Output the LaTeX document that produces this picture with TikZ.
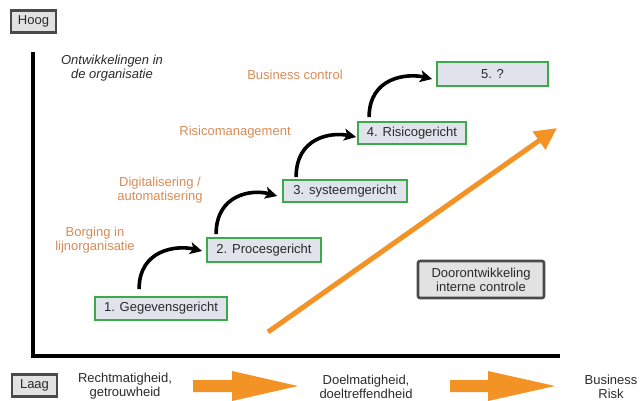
\documentclass[tikz,border=0pt]{standalone}
\usepackage{fontspec}
\setmainfont{Liberation Sans}
\usetikzlibrary{arrows.meta,calc}
\definecolor{boxgreen}{HTML}{3DAA4A}
\definecolor{boxfill}{HTML}{E0E3EB}
\definecolor{orangeA}{HTML}{F39325}
\definecolor{orangeT}{HTML}{D98A55}
\definecolor{darktxt}{HTML}{2A2A2A}
\definecolor{graybd}{HTML}{4A4A4A}
\definecolor{grayfill}{HTML}{E2E2E2}
\tikzset{
  stagebox/.style={draw=boxgreen, line width=1.8pt, fill=boxfill, text=darktxt, inner sep=0pt, anchor=center},
  levelbox/.style={draw=graybd, line width=2.6pt, fill=grayfill, text=darktxt, inner sep=0pt, minimum width=45pt, minimum height=22pt},
  orangelabel/.style={text=orangeT, align=center, inner sep=0pt},
  plainlabel/.style={text=darktxt, align=center, inner sep=0pt},
  steparrow/.style={line width=3.6pt, -{Stealth[length=12pt,width=12pt,inset=3pt]}},
  axisline/.style={line width=4pt, black},
}
\begin{document}
\begin{tikzpicture}[x=1pt,y=-1pt, font=\fontsize{13}{14}\selectfont]
\useasboundingbox (0,0) rectangle (644,400);
% axes
\coordinate (axtop) at (33,52);
\coordinate (axorig) at (33,355.5);
\coordinate (axright) at (560,355.5);
\draw[axisline] (axtop) -- (axorig) -- (axright);
% level boxes
\node[levelbox] (hoog) at (33.5,21.5) {Hoog};
\node[levelbox] (laag) at (34.5,385.5) {Laag};
% title
\node[plainlabel, font=\fontsize{13}{14}\selectfont\itshape] (titel) at (112,68) {Ontwikkelingen in\\de organisatie};
% orange labels
\node[orangelabel] (bc) at (295,75) {Business control};
\node[orangelabel] (rm) at (235,132) {Risicomanagement};
\node[orangelabel] (dig) at (160,190) {Digitalisering /\\automatisering};
\node[orangelabel] (borg) at (95,240) {Borging in\\lijnorganisatie};
% stage boxes
\node[stagebox, minimum width=132pt, minimum height=23pt] (b1) at (161,308.5) {1. Gegevensgericht};
\node[stagebox, minimum width=114pt, minimum height=24pt] (b2) at (264,250) {2. Procesgericht};
\node[stagebox, minimum width=124pt, minimum height=22pt] (b3) at (345,191) {3. systeemgericht};
\node[stagebox, minimum width=108pt, minimum height=22pt] (b4) at (412,133) {4. Risicogericht};
\node[stagebox, minimum width=111pt, minimum height=24pt] (b5) at (492.5,74) {5. ?};
% step arrows
\draw[steparrow] ([xshift=45pt,yshift=7pt]b1.north west) .. controls +(0,-40) and +(-25,-6) .. ([xshift=-4pt,yshift=-1pt]b2.west);
\draw[steparrow] ([xshift=10pt,yshift=3pt]b2.north west) .. controls +(0,-40) and +(-25,-7) .. ([xshift=-5pt,yshift=-5pt]b3.west);
\draw[steparrow] ([xshift=14pt,yshift=2pt]b3.north west) .. controls +(0,-40) and +(-25,-5) .. ([xshift=-1pt,yshift=-4pt]b4.west);
\draw[steparrow] ([xshift=12pt,yshift=4pt]b4.north west) .. controls +(0,-40) and +(-25,-6) .. ([xshift=-4pt,yshift=-5pt]b5.west);
% big orange arrow
\coordinate (oa) at (268,332);
\coordinate (ob) at (557,128);
\draw[orangeA, line width=5pt, -{Triangle[length=22pt,width=21pt]}] (oa) -- (ob);
% doorontwikkeling box
\node[draw=graybd, line width=2.6pt, rounded corners=2pt, fill=grayfill, text=darktxt, align=center, minimum width=126pt, minimum height=37pt, inner sep=0pt] (door) at (481,279.5) {Doorontwikkeling\\interne controle};
% bottom labels
\node[plainlabel] (recht) at (125,386.5) {Rechtmatigheid,\\getrouwheid};
\node[plainlabel] (doel) at (366,386.5) {Doelmatigheid,\\doeltreffendheid};
\node[plainlabel] (risk) at (611,386.5) {Business\\Risk};
% bottom block arrows
\fill[orangeA] (193,380) -- (232,380) -- (232,371) -- (298,386) -- (232,401) -- (232,392) -- (193,392) -- cycle;
\fill[orangeA] (450,380) -- (488,380) -- (488,371) -- (555,386) -- (488,401) -- (488,392) -- (450,392) -- cycle;
\end{tikzpicture}
\end{document}
